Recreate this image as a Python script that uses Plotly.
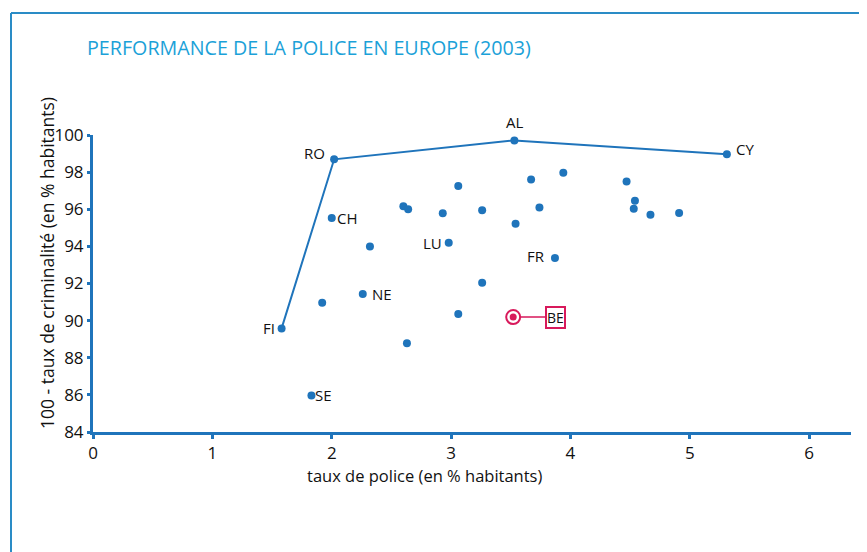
import plotly.graph_objects as go

# Data
countries = ["RO", "AL", "CY", "CH", "", "", "", "", "LU", "", "", "", "", "", "FR",
             "", "NE", "", "", "", "", "", "", "", "FI", "SE", "", "", "BE"]
police = [2.02, 3.53, 5.31, 2.00, 2.32, 2.60, 2.64, 2.93, 2.98, 3.06, 3.26, 3.54, 3.67, 3.74, 3.87,
          3.26, 2.26, 1.92, 3.94, 4.47, 4.54, 4.53, 4.67, 4.91, 1.58, 1.83, 3.06, 2.63, 3.52]
crime = [98.69, 99.71, 98.96, 95.53, 94.0, 96.16, 96.0, 95.78, 94.2, 97.25, 95.94, 95.22, 97.6, 96.1, 93.37,
         92.04, 91.43, 90.96, 97.97, 97.5, 96.46, 96.03, 95.71, 95.8, 89.58, 85.97, 90.36, 88.78, 90.19]
frontier = ["FI", "RO", "AL", "CY"]
highlight = "BE"

x_ticks = [0, 1, 2, 3, 4, 5, 6]
y_ticks = [84, 86, 88, 90, 92, 94, 96, 98, 100]

title_text = "PERFORMANCE DE LA POLICE EN EUROPE (2003)"
x_title = "taux de police (en % habitants)"
y_title = "100 - taux de criminalité (en % habitants)"

BLUE = "#1f74bb"
RED = "#d8195b"
TITLE_C = "#1ba1d8"
FONT = "Open Sans"

# page body has an 8px margin; plot area in page coords: x 93..851, y 135..432
OFF = 8
L, T, R, B = 93 - OFF, 135 - OFF, 851 - OFF, 432 - OFF
W, H = 867 - OFF, 552 - OFF
PW, PH = R - L, B - T


def px(xp):
    return (xp - OFF - L) / PW


def py(yp):
    return (B - (yp - OFF)) / PH


fig = go.Figure()

fx = [police[countries.index(c)] for c in frontier]
fy = [crime[countries.index(c)] for c in frontier]
fig.add_trace(go.Scatter(x=fx, y=fy, mode="lines", line=dict(color=BLUE, width=2),
                         hoverinfo="skip", showlegend=False))

idx = [i for i, c in enumerate(countries) if c != highlight]
fig.add_trace(go.Scatter(x=[police[i] for i in idx], y=[crime[i] for i in idx], mode="markers",
                         marker=dict(color=BLUE, size=8), showlegend=False,
                         text=[countries[i] for i in idx]))

hi = countries.index(highlight)
fig.add_trace(go.Scatter(x=[police[hi]], y=[crime[hi]], mode="markers",
                         marker=dict(color="white", size=14, line=dict(color=RED, width=2)),
                         showlegend=False))
fig.add_trace(go.Scatter(x=[police[hi]], y=[crime[hi]], mode="markers",
                         marker=dict(color=RED, size=7), showlegend=False))

label_pos = {
    "RO": dict(xanchor="right", yanchor="middle", xshift=-7, yshift=6),
    "AL": dict(xanchor="center", yanchor="bottom", xshift=0, yshift=6),
    "CY": dict(xanchor="left", yanchor="middle", xshift=7, yshift=5),
    "CH": dict(xanchor="left", yanchor="middle", xshift=3, yshift=0),
    "LU": dict(xanchor="right", yanchor="middle", xshift=-5, yshift=0),
    "FR": dict(xanchor="right", yanchor="middle", xshift=-8, yshift=2),
    "NE": dict(xanchor="left", yanchor="middle", xshift=7, yshift=0),
    "FI": dict(xanchor="right", yanchor="middle", xshift=-5, yshift=0),
    "SE": dict(xanchor="left", yanchor="middle", xshift=2, yshift=0),
}
for i, c in enumerate(countries):
    if c in label_pos:
        fig.add_annotation(x=police[i], y=crime[i], text=c, showarrow=False,
                           font=dict(family=FONT, size=15, color="#111"), **label_pos[c])

fig.add_annotation(x=police[hi], y=crime[hi], text=highlight, showarrow=True,
                   arrowhead=0, arrowwidth=1.5, arrowcolor=RED, ax=42, ay=0, standoff=7,
                   bordercolor=RED, borderwidth=2, borderpad=0, bgcolor="white",
                   font=dict(family=FONT, size=14, color="#111"))

fig.add_annotation(xref="paper", yref="paper", x=px(85), y=py(48),
                   text=title_text, showarrow=False, xanchor="left", yanchor="middle",
                   font=dict(family=FONT, size=19.7, color=TITLE_C))

# axis titles (placed off-centre as in the reference)
fig.add_annotation(xref="paper", yref="paper", x=px(424), y=py(475),
                   text=x_title, showarrow=False, xanchor="center", yanchor="middle",
                   font=dict(family=FONT, size=16.5, color="#111"))
fig.add_annotation(xref="paper", yref="paper", x=px(47), y=py(263),
                   text=y_title, showarrow=False, xanchor="center", yanchor="middle",
                   textangle=-90, font=dict(family=FONT, size=17.5, color="#111"))

# frame (top and left edges)
fig.add_shape(type="line", xref="paper", yref="paper",
              x0=px(11), x1=px(900), y0=py(13), y1=py(13),
              line=dict(color="#2a8cc6", width=2))
fig.add_shape(type="line", xref="paper", yref="paper",
              x0=px(11), x1=px(11), y0=py(13), y1=py(620),
              line=dict(color="#2a8cc6", width=2))

fig.update_xaxes(range=[0, 6.35], tickvals=x_ticks, showgrid=False, zeroline=False,
                 showline=True, linecolor=BLUE, linewidth=3, ticks="outside", ticklen=4,
                 tickwidth=3, tickcolor=BLUE,
                 tickfont=dict(family=FONT, size=17, color="#111"))
fig.update_yaxes(range=[84, 100], tickvals=y_ticks, showgrid=False, zeroline=False,
                 showline=True, linecolor=BLUE, linewidth=3, ticks="outside", ticklen=3,
                 tickwidth=3, tickcolor=BLUE,
                 tickfont=dict(family=FONT, size=17, color="#111"))

fig.update_layout(width=W, height=H, margin=dict(l=L, r=W - R, t=T, b=H - B),
                  plot_bgcolor="white", paper_bgcolor="white", showlegend=False)

fig.write_html("out.html")
